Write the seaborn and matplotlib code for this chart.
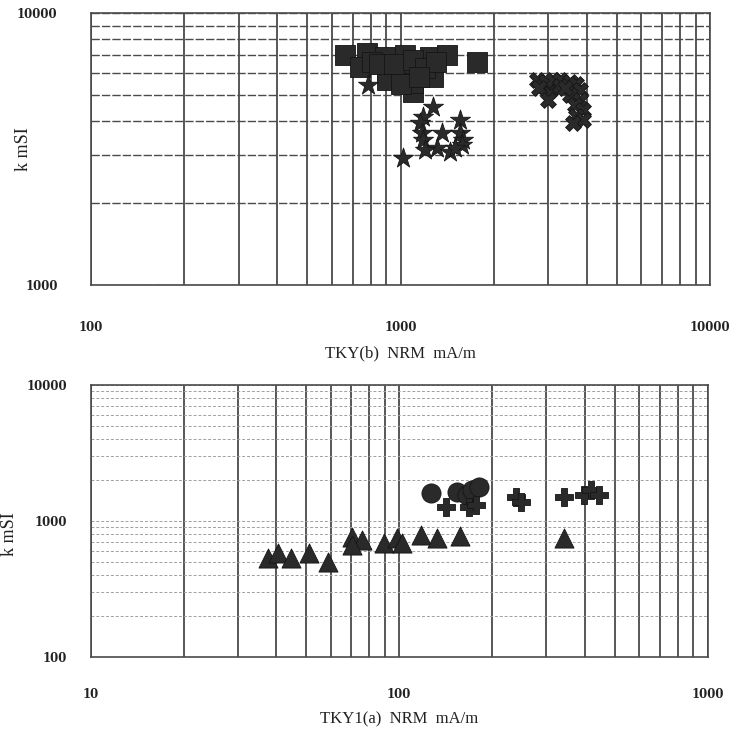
import numpy as np
import pandas as pd
import matplotlib
matplotlib.use("Agg")
import matplotlib.pyplot as plt
import seaborn as sns
from matplotlib.ticker import LogLocator, NullFormatter

# --- data ---
# top panel: TKY(b)
sq_x = [662, 780, 891, 1035, 1245, 1413, 1766, 739, 904, 995, 1156, 1273, 1097, 904, 806,
        1097, 850, 950, 1100, 1200, 1300, 1000, 1150]
sq_y = [7010, 7130, 6890, 7010, 6890, 7010, 6600, 6330, 6170, 6020, 6170, 5820, 5130, 5670, 6600,
        5530, 6500, 6500, 6700, 6300, 6600, 5500, 5800]

star_x = [1273, 1183, 1156, 1174, 1183, 1361, 1313, 1446, 1556, 1556, 1592, 1580, 1018, 785, 1200, 1500]
star_y = [4510, 4150, 3950, 3625, 3415, 3625, 3190, 3085, 4050, 3625, 3415, 3275, 2930, 5435, 3150, 3200]

xm_x = [2760, 2900, 3040, 2950, 3100, 3275, 3530, 3700, 3800, 3530, 3800, 3650, 3890, 3700, 3890,
        3600, 3275, 3400, 2800, 3000]
xm_y = [5680, 5400, 5210, 5600, 5700, 5680, 5600, 5500, 5210, 5000, 4790, 4600, 4400, 4200, 4040,
        3950, 5400, 5300, 5300, 4800]

# bottom panel: TKY1(a)
tri_x = [37.7, 40.6, 44.6, 50.9, 59.0, 70.2, 75.6, 70.2, 89.1, 98.2, 102, 117.5, 132.5, 157, 342.8]
tri_y = [535, 582, 535, 582, 500, 762, 725, 667, 689, 750, 689, 789, 750, 770, 750]

circ_x = [126.5, 153.7, 165.8, 172, 181.5]
circ_y = [1607, 1633, 1549, 1690, 1780]

plus_x = [141.6, 168, 177, 239, 248, 343, 398, 420, 446]
plus_y = [1268, 1268, 1312, 1500, 1380, 1500, 1549, 1690, 1549]

top_xticks = [100, 1000, 10000]
top_yticks = [1000, 10000]
bot_xticks = [10, 100, 1000]
bot_yticks = [100, 1000, 10000]

# --- styling ---
sns.set_style("white")
plt.rcParams['font.family'] = ['Liberation Serif', 'DejaVu Serif']
plt.rcParams['font.weight'] = 'bold'

INK = '#2a2a2a'
GRID = '#4a4a4a'
TXT = '#222222'

fig = plt.figure(figsize=(7.31, 7.29), dpi=100)
ax1 = fig.add_axes([0.1245, 0.609, 0.847, 0.373])
ax2 = fig.add_axes([0.124, 0.0988, 0.844, 0.373])

mk = dict(color=INK, edgecolor='#151515', linewidth=0.6, legend=False, zorder=3)
sns.scatterplot(x=sq_x, y=sq_y, marker='s', s=200, ax=ax1, **mk)
sns.scatterplot(x=star_x, y=star_y, marker='*', s=230, ax=ax1, **mk)
sns.scatterplot(x=xm_x, y=xm_y, marker='X', s=130, ax=ax1, **mk)

sns.scatterplot(x=tri_x, y=tri_y, marker='^', s=190, ax=ax2, **mk)
sns.scatterplot(x=circ_x, y=circ_y, marker='o', s=190, ax=ax2, **mk)
sns.scatterplot(x=plus_x, y=plus_y, marker='P', s=150, ax=ax2, **mk)


def style_axes(ax, xlim, ylim, xticks, yticks, xlabel, hgrid, ylab_x):
    ax.set_xscale('log')
    ax.set_yscale('log')
    ax.set_xlim(*xlim)
    ax.set_ylim(*ylim)
    ax.xaxis.set_minor_locator(LogLocator(base=10, subs=np.arange(2, 10), numticks=20))
    ax.yaxis.set_minor_locator(LogLocator(base=10, subs=np.arange(2, 10), numticks=20))
    ax.set_xticks(xticks)
    ax.set_yticks(yticks)
    ax.set_xticklabels([str(t) for t in xticks], family='DejaVu Serif', fontsize=8.5)
    ax.set_yticklabels([str(t) for t in yticks], family='DejaVu Serif', fontsize=8.5)
    ax.xaxis.set_minor_formatter(NullFormatter())
    ax.yaxis.set_minor_formatter(NullFormatter())
    ax.grid(which='both', axis='x', color=GRID, linewidth=1.3, linestyle='-')
    ax.grid(which='both', axis='y', **hgrid)
    ax.set_axisbelow(True)
    for sp in ax.spines.values():
        sp.set_color(GRID)
        sp.set_linewidth(1.2)
    ax.set_xlabel(xlabel, fontsize=12, color=TXT, labelpad=8)
    ax.set_ylabel('k mSI', fontsize=13, color=TXT)
    ax.yaxis.set_label_coords(ylab_x, 0.5)
    ax.tick_params(axis='both', which='both', colors=TXT)


style_axes(ax1, (100, 10000), (1000, 10000), top_xticks, top_yticks, 'TKY(b)  NRM  mA/m',
           dict(color=GRID, linewidth=1.0, linestyle=(0, (6, 1.5))), -0.095)
ax1.tick_params(axis='x', which='major', direction='out', length=16, width=1.2, pad=10)
ax1.tick_params(axis='x', which='minor', direction='out', length=10, width=1.2)
ax1.tick_params(axis='y', which='both', length=0, pad=24)

style_axes(ax2, (10, 1000), (100, 10000), bot_xticks, bot_yticks, 'TKY1(a)  NRM  mA/m',
           dict(color='#a0a0a0', linewidth=0.7, linestyle=(0, (3, 2))), -0.117)
ax2.yaxis.set_label_coords(-0.117, 0.45)
ax2.tick_params(axis='x', which='major', direction='out', length=8, width=1.2, pad=14)
ax2.tick_params(axis='x', which='minor', direction='out', length=0)
ax2.tick_params(axis='y', which='major', direction='out', length=12, width=1.2, pad=5)
ax2.tick_params(axis='y', which='minor', direction='out', length=7, width=1.2)

fig.savefig('out.png', dpi=100, facecolor='white')
